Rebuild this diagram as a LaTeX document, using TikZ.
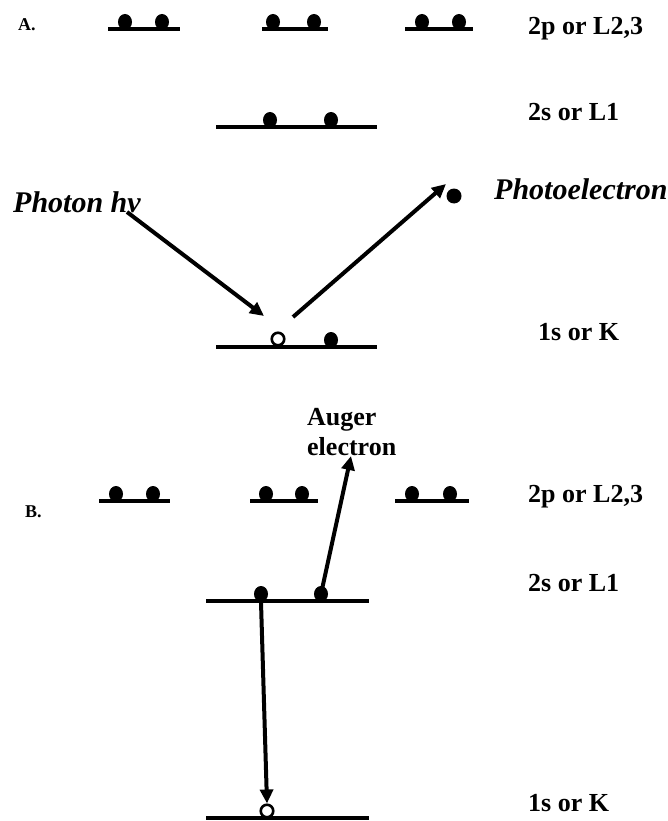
\documentclass[tikz,border=0pt]{standalone}
\usepackage{fontspec}
\setmainfont{Liberation Serif}
\usetikzlibrary{arrows.meta,shapes.geometric}
\begin{document}
\begin{tikzpicture}[x=1pt,y=-1pt,
  level/.style={line width=3.5pt},
  elec/.style={ellipse,fill=black,inner sep=0pt,minimum width=14pt,minimum height=16pt},
  hole/.style={circle,draw=black,line width=2.6pt,fill=white,inner sep=0pt,minimum size=12.5pt},
  lbl/.style={anchor=base west,inner sep=0pt,font=\fontsize{26}{30}\selectfont\bfseries},
  big/.style={anchor=base west,inner sep=0pt,font=\fontsize{30}{34}\selectfont\bfseries\itshape},
  tag/.style={anchor=base west,inner sep=0pt,font=\fontsize{18}{20}\selectfont\bfseries},
  arr/.style={line width=4pt,-{Triangle[length=14pt,width=13pt]}}]
\useasboundingbox (0,0) rectangle (668,821);

% ---------- A: photoemission ----------
\node[tag] (tA) at (18,31) {A.};
% 2p sublevels
\draw[level] (108,29) -- (180,29);
\draw[level] (262,29) -- (328,29);
\draw[level] (405,29) -- (473,29);
\node[elec] (a1) at (125,22) {};
\node[elec] (a2) at (162,22) {};
\node[elec] (a3) at (273,22) {};
\node[elec] (a4) at (314,22) {};
\node[elec] (a5) at (422,22) {};
\node[elec] (a6) at (459,22) {};
\node[lbl] (a2p) at (528,35) {2p or L2,3};
% 2s level
\draw[level] (216,127) -- (377,127);
\node[elec] (a7) at (270,120) {};
\node[elec] (a8) at (331,120) {};
\node[lbl] (a2s) at (528,121) {2s or L1};
% 1s level with the core hole
\draw[level] (216,347) -- (377,347);
\node[hole] (ah) at (278,339) {};
\node[elec] (a9) at (331,340) {};
\node[lbl] (a1s) at (538,340) {1s or K};
% incoming photon and outgoing photoelectron
\node[big] (ph) at (13,212) {Photon hv};
\node[big] (pe) at (494,200) {Photoelectron};
\node[circle,fill=black,inner sep=0pt,minimum size=15pt] (pd) at (454,196) {};
\coordinate (phs) at (127,212);
\coordinate (phe) at (264,316);
\coordinate (pes) at (293,317);
\coordinate (pee) at (446,184);
\draw[arr] (phs) -- (phe);
\draw[arr] (pes) -- (pee);

% ---------- B: Auger emission ----------
\node[tag] (tB) at (25,517) {B.};
\draw[level] (99,501) -- (170,501);
\draw[level] (250,501) -- (318,501);
\draw[level] (395,501) -- (469,501);
\node[elec] (b1) at (116,494) {};
\node[elec] (b2) at (153,494) {};
\node[elec] (b3) at (266,494) {};
\node[elec] (b4) at (302,494) {};
\node[elec] (b5) at (412,494) {};
\node[elec] (b6) at (450,494) {};
\node[lbl] (b2p) at (528,502) {2p or L2,3};
\node[lbl] (au1) at (307,425) {Auger};
\node[lbl] (au2) at (307,455) {electron};
\coordinate (aut) at (351,456);
% 2s level
\draw[level] (206,601) -- (369,601);
\node[elec] (b7) at (261,594) {};
\node[elec] (b8) at (321,594) {};
\node[lbl] (b2s) at (528,591) {2s or L1};
% 1s level
\draw[level] (206,818) -- (369,818);
\node[hole] (bh) at (267,811) {};
\node[lbl] (b1s) at (528,811) {1s or K};
% relaxation and Auger ejection
\draw[arr] (b7.south) -- (bh.north);
\draw[arr] (b8.center) -- (aut);
\end{tikzpicture}
\end{document}
